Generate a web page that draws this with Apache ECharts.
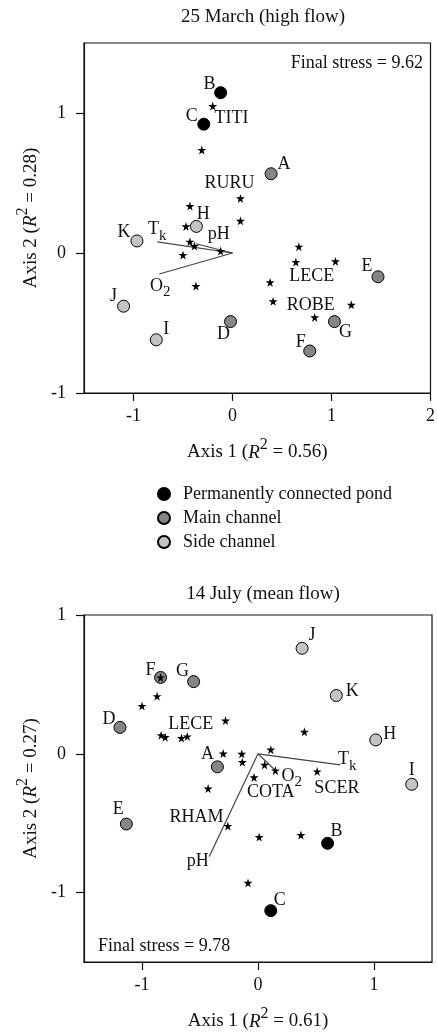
<!DOCTYPE html>
<html>
<head>
<meta charset="utf-8">
<script src="https://cdn.jsdelivr.net/npm/echarts@6/dist/echarts.min.js"></script>
<style>
  html, body { margin: 0; padding: 0; background: #fff; }
  #chart { width: 438px; height: 1033px; }
</style>
</head>
<body>
<div id="chart"></div>
<script>
// ---- data: 25 March (high flow) ----
const marchPond = [['B', -0.12, 1.145], ['C', -0.29, 0.92]];
const marchMain = [['A', 0.39, 0.566], ['D', -0.02, -0.49], ['E', 1.47, -0.17], ['F', 0.78, -0.70], ['G', 1.03, -0.49]];
const marchSide = [['H', -0.365, 0.19], ['I', -0.77, -0.62], ['J', -1.10, -0.38], ['K', -0.965, 0.086]];
const marchSpecies = [
  [-0.20, 1.05], [-0.31, 0.736], [0.08, 0.39], [-0.43, 0.335], [-0.47, 0.19], [0.08, 0.23],
  [-0.43, 0.08], [-0.385, 0.05], [-0.12, 0.014], [-0.50, -0.014], [-0.37, -0.236], [0.67, 0.045],
  [0.64, -0.064], [1.04, -0.06], [0.38, -0.21], [0.41, -0.345], [1.20, -0.37], [0.83, -0.46]
];
const marchVectors = [['Tk', -0.76, 0.08], ['pH', -0.37, 0.066], ['O2', -0.74, -0.15]];
const marchNames = [['TITI', -0.01, 0.96], ['RURU', -0.03, 0.50], ['LECE', 0.80, -0.165], ['ROBE', 0.79, -0.37]];
const marchVecNames = [['Tk', -0.76, 0.17], ['pH', -0.14, 0.136], ['O2', -0.73, -0.236]];
const marchXTicks = [-1, 0, 1, 2];
const marchYTicks = [-1, 0, 1];

// ---- data: 14 July (mean flow) ----
const julyPond = [['B', 0.60, -0.645], ['C', 0.11, -1.13]];
const julyMain = [['A', -0.35, -0.094], ['D', -1.19, 0.19], ['E', -1.135, -0.506], ['F', -0.84, 0.55], ['G', -0.555, 0.52]];
const julySide = [['H', 1.015, 0.10], ['I', 1.325, -0.22], ['J', 0.38, 0.76], ['K', 0.675, 0.42]];
const julySpecies = [
  [-0.84, 0.55], [-0.87, 0.415], [-1.00, 0.345], [-0.28, 0.24], [-0.835, 0.134], [-0.80, 0.12],
  [-0.66, 0.113], [-0.61, 0.125], [0.40, 0.158], [-0.30, 0.002], [-0.14, 0.0], [-0.135, -0.06],
  [0.11, 0.03], [0.057, -0.08], [0.15, -0.12], [-0.034, -0.17], [0.51, -0.127], [-0.43, -0.25],
  [-0.26, -0.52], [0.01, -0.60], [0.37, -0.585], [-0.086, -0.93]
];
const julyVectors = [['Tk', 0.71, -0.08], ['O2', 0.15, -0.12], ['pH', -0.42, -0.74]];
const julyNames = [['LECE', -0.58, 0.216], ['SCER', 0.68, -0.25], ['COTA', 0.11, -0.28], ['RHAM', -0.53, -0.46]];
const julyVecNames = [['Tk', 0.77, -0.04], ['O2', 0.29, -0.16], ['pH', -0.52, -0.775]];
const julyXTicks = [-1, 0, 1];
const julyYTicks = [-1, 0, 1];

const groupNames = ['Permanently connected pond', 'Main channel', 'Side channel'];
const groupColors = ['#000000', '#858585', '#c4c4c4'];

// where each site letter sits relative to its dot (px)
const marchOffsets = { A: [13, -9], B: [-11, -8], C: [-12, -8], D: [-7, 13], E: [-11, -11], F: [-9, -9], G: [11, 11], H: [7, -12], I: [10, -11], J: [-10, -10], K: [-13, -9] };
const julyOffsets = { A: [-10, -13], B: [9, -12], C: [9, -10], D: [-11, -8], E: [-8, -15], F: [-10, -7], G: [-11, -10], H: [14, -6], I: [0, -14], J: [10, -13], K: [16, -4] };

const FONT = 'Liberation Serif';
const INK = '#111';
const STAR = 'path://M50,0 L61,35 L98,35 L68,57 L79,91 L50,70 L21,91 L32,57 L2,35 L39,35 Z';

const richLabel = {
  t: { fontFamily: FONT, fontSize: 18, lineHeight: 18, color: INK, textBorderWidth: 0, verticalAlign: 'top' },
  sub: { fontFamily: FONT, fontSize: 15, lineHeight: 15, color: INK, textBorderWidth: 0, verticalAlign: 'top', padding: [8, 0, 0, 0] }
};
const richAxis = {
  t: { fontFamily: FONT, fontSize: 19, lineHeight: 19, color: INK, verticalAlign: 'bottom' },
  i: { fontFamily: FONT, fontSize: 19, lineHeight: 19, color: INK, fontStyle: 'italic', verticalAlign: 'bottom' },
  s: { fontFamily: FONT, fontSize: 16, lineHeight: 16, color: INK, verticalAlign: 'bottom', padding: [0, 0, 9, 0] }
};

function vecText(n) {
  if (n === 'Tk') return '{t|T}{sub|k}';
  if (n === 'O2') return '{t|O}{sub|2}';
  return '{t|' + n + '}';
}

function axisPair(idx, xr, yr, xticks, yticks, xname, yname) {
  const common = {
    gridIndex: idx,
    type: 'value',
    splitLine: { show: false },
    axisLine: { show: true, onZero: false, lineStyle: { color: INK, width: 1.2 } },
    axisTick: { show: true, length: 8, lineStyle: { color: INK, width: 1.2 } },
    nameLocation: 'middle',
    nameTextStyle: { rich: richAxis }
  };
  return {
    x: Object.assign({}, common, {
      min: xr[0], max: xr[1],
      axisTick: Object.assign({}, common.axisTick, { customValues: xticks }),
      axisLabel: { customValues: xticks, margin: 14, fontFamily: FONT, fontSize: 18, color: INK },
      name: xname, nameGap: 50
    }),
    y: Object.assign({}, common, {
      min: yr[0], max: yr[1],
      axisTick: Object.assign({}, common.axisTick, { customValues: yticks }),
      axisLabel: { customValues: yticks, margin: 18, fontFamily: FONT, fontSize: 18, color: INK },
      name: yname, nameGap: 37
    })
  };
}

function siteSeries(idx, groups, offsets) {
  return groups.map((g, k) => ({
    type: 'scatter',
    name: groupNames[k],
    xAxisIndex: idx, yAxisIndex: idx,
    symbol: 'circle', symbolSize: 12,
    itemStyle: { color: groupColors[k], borderColor: '#000', borderWidth: 1, opacity: 1 },
    label: { show: true, position: 'inside', fontFamily: FONT, fontSize: 18, color: INK, textBorderWidth: 0, formatter: p => p.name },
    data: g.map(d => ({ name: d[0], value: [d[1], d[2]], label: { offset: offsets[d[0]] } }))
  }));
}

function vectorSeries(idx, vecs) {
  return {
    type: 'lines', coordinateSystem: 'cartesian2d',
    xAxisIndex: idx, yAxisIndex: idx,
    lineStyle: { color: '#444', width: 1.2, opacity: 1 },
    data: vecs.map(v => ({ coords: [[0, 0], [v[1], v[2]]] }))
  };
}

function starSeries(idx, pts) {
  return {
    type: 'scatter', xAxisIndex: idx, yAxisIndex: idx,
    symbol: STAR, symbolSize: 9,
    itemStyle: { color: '#000', opacity: 1 },
    data: pts
  };
}

function textSeries(idx, items, fmt) {
  return {
    type: 'scatter', xAxisIndex: idx, yAxisIndex: idx,
    symbolSize: 0, silent: true,
    itemStyle: { color: INK, opacity: 1 },
    label: {
      show: true, position: 'inside', fontFamily: FONT, fontSize: 18, color: INK, textBorderWidth: 0,
      formatter: p => fmt(p.name), rich: richLabel
    },
    data: items.map(d => ({ name: d[0], value: [d[1], d[2]] }))
  };
}

const a1 = axisPair(0, [-1.5, 2], [-1, 1.5], marchXTicks, marchYTicks,
  '{t|Axis 1 (}{i|R}{s|2}{t| = 0.56)}', '{t|Axis 2 (}{i|R}{s|2}{t| = 0.28)}');
const a2 = axisPair(1, [-1.5, 1.5], [-1.5, 1], julyXTicks, julyYTicks,
  '{t|Axis 1 (}{i|R}{s|2}{t| = 0.61)}', '{t|Axis 2 (}{i|R}{s|2}{t| = 0.27)}');

const chart = echarts.init(document.getElementById('chart'), null, { renderer: 'canvas' });
chart.setOption({
  animation: false,
  backgroundColor: '#fff',
  title: [
    { text: '25 March (high flow)', left: 258, top: 3, textAlign: 'center', textStyle: { fontFamily: FONT, fontSize: 19, fontWeight: 'normal', color: INK } },
    { text: '14 July (mean flow)', left: 258, top: 580, textAlign: 'center', textStyle: { fontFamily: FONT, fontSize: 19, fontWeight: 'normal', color: INK } },
    { text: 'Final stress = 9.62', right: 10, top: 49, textStyle: { fontFamily: FONT, fontSize: 18, fontWeight: 'normal', color: INK } },
    { text: 'Final stress = 9.78', left: 93, top: 932, textStyle: { fontFamily: FONT, fontSize: 18, fontWeight: 'normal', color: INK } }
  ],
  legend: {
    data: groupNames,
    orient: 'vertical',
    left: 152, top: 480,
    itemWidth: 12, itemHeight: 12, itemGap: 6,
    icon: 'circle',
    selectedMode: false,
    textStyle: { fontFamily: FONT, fontSize: 18, color: INK, padding: [0, 0, 0, 8] }
  },
  grid: [
    { left: 84, top: 43, width: 348, height: 350, show: true, borderColor: INK, borderWidth: 1.2 },
    { left: 84, top: 615, width: 348, height: 347, show: true, borderColor: INK, borderWidth: 1.2 }
  ],
  xAxis: [a1.x, a2.x],
  yAxis: [a1.y, a2.y],
  series: [
    vectorSeries(0, marchVectors),
    ...siteSeries(0, [marchPond, marchMain, marchSide], marchOffsets),
    starSeries(0, marchSpecies),
    textSeries(0, marchNames, n => '{t|' + n + '}'),
    textSeries(0, marchVecNames, vecText),
    vectorSeries(1, julyVectors),
    ...siteSeries(1, [julyPond, julyMain, julySide], julyOffsets),
    starSeries(1, julySpecies),
    textSeries(1, julyNames, n => '{t|' + n + '}'),
    textSeries(1, julyVecNames, vecText)
  ]
});
</script>
</body>
</html>
